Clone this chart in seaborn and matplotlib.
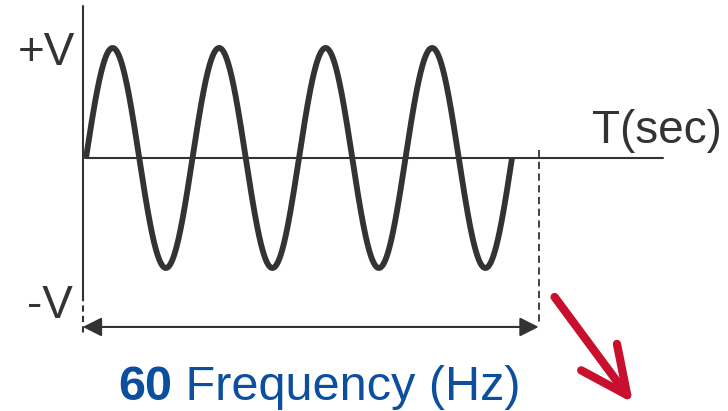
import numpy as np
import pandas as pd
import matplotlib.pyplot as plt
import seaborn as sns

# values (time in cycles, voltage in units of V)
cycles = 4
amplitude = 1.0
frequency_label = ["60", " Frequency (Hz)"]
v_labels = ["+V", "-V"]
time_label = "T(sec)"
period_end = 4.25        # dashed marker after the wave
axis_end = 5.42          # end of the time axis

t = np.linspace(0, cycles, 1200)
wave = pd.DataFrame({"t": t, "v": amplitude * np.sin(2 * np.pi * t)})

sns.set_theme(style="white")
plt.rcParams["font.family"] = ["Liberation Sans", "DejaVu Sans"]

dark = "#333333"
blue = "#0b4f9e"
red = "#c8102e"

fig = plt.figure(figsize=(7.28, 4.11), dpi=100)
ax = fig.add_axes([0, 0, 1, 1])
ax.set_xlim(-0.8075, 6.028)
ax.set_ylim(-2.3, 1.436)
ax.axis("off")

# axes of the diagram
ax.plot([-0.03, -0.03], [1.38, -1.245], color=dark, lw=1.5)
ax.plot([-0.03, -0.03], [-1.245, -1.62], color=dark, lw=1.5, ls=(0, (3, 2)))
ax.plot([-0.01, axis_end], [0, 0], color=dark, lw=1.5)

# the sine wave
sns.lineplot(data=wave, x="t", y="v", ax=ax, color=dark, lw=4.2,
             sort=False, estimator=None)
ax.lines[-1].set_solid_capstyle("butt")

# dashed marker and double arrow
ax.plot([period_end, period_end], [0.07, -1.53], color=dark, lw=1.3,
        ls=(0, (4, 2.5)))
ax.annotate("", xy=(period_end, -1.536), xytext=(-0.03, -1.536),
            arrowprops=dict(arrowstyle="<|-|>,head_length=1.15,head_width=0.58",
                            color=dark, lw=1.5, shrinkA=0, shrinkB=0,
                            mutation_scale=10))

# red arrow
ax.annotate("", xy=(5.136, -2.227), xytext=(4.40, -1.264),
            arrowprops=dict(arrowstyle="->,head_length=1.7,head_width=0.8",
                            color=red, lw=6, shrinkA=0, shrinkB=0,
                            mutation_scale=20, capstyle="round",
                            joinstyle="round"))

# labels
ax.text(-0.10, 0.845, v_labels[0], fontsize=33, color=dark,
        ha="right", va="baseline")
ax.text(-0.12, -1.455, v_labels[1], fontsize=33, color=dark,
        ha="right", va="baseline")
ax.text(4.75, 0.136, time_label, fontsize=33, color=dark,
        ha="left", va="baseline")

t60 = ax.text(0.30, -2.2, frequency_label[0], fontsize=35, color=blue,
              fontweight="bold", ha="left", va="baseline")
ax.annotate(frequency_label[1], xy=(1, 0), xycoords=t60, fontsize=35,
            color=blue, ha="left", va="bottom")

fig.savefig("out.png", dpi=100)
